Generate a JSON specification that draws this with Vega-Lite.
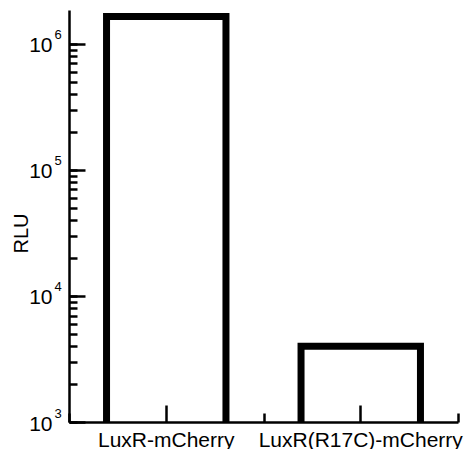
{
  "$schema": "https://vega.github.io/schema/vega-lite/v6.json",
  "width": 389,
  "height": 412,
  "autosize": "none",
  "padding": {"left": 69, "top": 10, "right": 8, "bottom": 27},
  "background": "white",
  "config": {
    "view": {"stroke": null},
    "font": "Liberation Sans",
    "axis": {
      "grid": false,
      "domainColor": "black",
      "tickColor": "black",
      "labelColor": "black",
      "titleColor": "black",
      "labelFont": "Liberation Sans",
      "titleFont": "Liberation Sans"
    }
  },
  "data": {
    "values": [
      {"construct": "LuxR-mCherry", "rlu": 1650000},
      {"construct": "LuxR(R17C)-mCherry", "rlu": 4000}
    ]
  },
  "layer": [
    {
      "mark": {"type": "bar", "fill": "white", "width": {"band": 0.614}, "clip": true},
      "encoding": {
        "x": {
          "field": "construct",
          "type": "nominal",
          "sort": null,
          "scale": {"paddingInner": 0, "paddingOuter": 0},
          "axis": {
            "title": null,
            "orient": "bottom",
            "labelAngle": 0,
            "labelFontSize": 21,
            "labelLimit": 400,
            "labelOverlap": false,
            "labelPadding": 24,
            "tickSize": -17,
            "tickWidth": 2.5,
            "domainWidth": 2.5,
            "zindex": 1
          }
        },
        "y": {
          "field": "rlu",
          "type": "quantitative",
          "scale": {"type": "log", "domain": [1000, 1860000], "nice": false},
          "axis": {
            "orient": "left",
            "title": "RLU",
            "titleFontSize": 20,
            "titleFontWeight": "normal",
            "titleBaseline": "alphabetic",
            "titleX": -42,
            "titleY": 223,
            "values": [1000, 10000, 100000, 1000000],
            "labelExpr": "'10'",
            "labelFontSize": 21,
            "labelAlign": "right",
            "labelBaseline": "alphabetic",
            "labelOffset": 8,
            "labelPadding": 33,
            "labelOverlap": false,
            "tickSize": -16,
            "tickWidth": 2.5,
            "domainWidth": 2.5,
            "zindex": 1
          }
        },
        "y2": {"datum": 500}
      }
    },
    {
      "mark": {"type": "bar", "fill": null, "stroke": "black", "strokeWidth": 7, "width": {"band": 0.614}, "clip": true},
      "encoding": {
        "x": {
          "field": "construct",
          "type": "nominal",
          "sort": null,
          "axis": {
            "title": null,
            "orient": "bottom",
            "labels": false,
            "domain": false,
            "tickBand": "extent",
            "tickSize": -9,
            "tickWidth": 2.5,
            "zindex": 1
          }
        },
        "y": {
          "field": "rlu",
          "type": "quantitative",
          "axis": {
            "orient": "left",
            "title": null,
            "domain": false,
            "values": [1000, 2000, 3000, 4000, 5000, 6000, 7000, 8000, 9000,
                       10000, 20000, 30000, 40000, 50000, 60000, 70000, 80000, 90000,
                       100000, 200000, 300000, 400000, 500000, 600000, 700000, 800000, 900000,
                       1000000],
            "labelExpr": "abs(log(datum.value)/LN10 - round(log(datum.value)/LN10)) < 0.001 ? '' + round(log(datum.value)/LN10) : ''",
            "labelFontSize": 13,
            "labelAlign": "left",
            "labelBaseline": "alphabetic",
            "labelOffset": -5,
            "labelPadding": 23,
            "labelOverlap": false,
            "tickSize": -8,
            "tickWidth": 2.5,
            "zindex": 1
          }
        },
        "y2": {"datum": 500}
      }
    }
  ],
  "resolve": {"axis": {"x": "independent", "y": "independent"}}
}
